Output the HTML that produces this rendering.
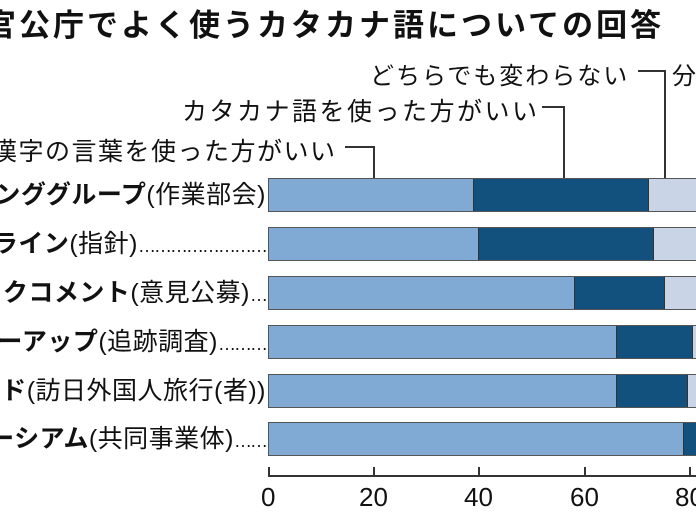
<!DOCTYPE html>
<html><head><meta charset="utf-8"><style>
body{margin:0;width:696px;height:522px;overflow:hidden;background:#fff;position:relative;font-family:"Liberation Sans","Noto Sans CJK JP",sans-serif;color:#111}
.t{position:absolute;white-space:nowrap}
.lab{position:absolute;right:430px;white-space:nowrap;font-size:25px;line-height:34px;letter-spacing:0.5px}
.lab b{font-weight:bold}
.dots{letter-spacing:-2px;font-size:18px}
.bar{position:absolute;left:268px;height:34px;width:440px;border:1.5px solid #555;box-sizing:border-box;display:flex;overflow:hidden}
.a{background:#80a9d3;height:100%;flex-shrink:0}
.b{background:#12507e;height:100%;border-left:1.5px solid #333;border-right:1.5px solid #333;box-sizing:border-box;flex-shrink:0}
.c{background:#c9d5e7;height:100%;flex:1}
.ln{position:absolute;background:#333}
.tk{position:absolute;font-size:26px;top:482px}
</style></head><body>
<div class="t" style="left:-15px;top:0px;font-size:31px;font-weight:bold;letter-spacing:3px">官公庁でよく使うカタカナ語についての回答</div>
<div class="t" style="left:370px;top:56px;font-size:24px;letter-spacing:2px">どちらでも変わらない</div>
<div class="t" style="left:672px;top:56px;font-size:24px">分</div>
<div class="t" style="left:182px;top:92px;font-size:25px;letter-spacing:2.5px">カタカナ語を使った方がいい</div>
<div class="t" style="left:-8px;top:132px;font-size:25px;letter-spacing:1.5px">漢字の言葉を使った方がいい</div>
<div class="ln" style="left:638px;top:70px;width:27px;height:1.5px"></div>
<div class="ln" style="left:664px;top:70px;width:1.5px;height:108px"></div>
<div class="ln" style="left:542px;top:106px;width:22px;height:1.5px"></div>
<div class="ln" style="left:563px;top:106px;width:1.5px;height:72px"></div>
<div class="ln" style="left:345px;top:146px;width:29px;height:1.5px"></div>
<div class="ln" style="left:373px;top:146px;width:1.5px;height:32px"></div>

<div class="lab" style="top:178px"><b>ワーキンググループ</b>(作業部会)</div>
<div class="lab" style="top:227px"><b>ガイドライン</b>(指針)<span class="dots">……………………</span></div>
<div class="lab" style="top:276px"><b>パブリックコメント</b>(意見公募)<span class="dots">…</span></div>
<div class="lab" style="top:325px"><b>フォローアップ</b>(追跡調査)<span class="dots">………</span></div>
<div class="lab" style="top:374px"><b>インバウンド</b>(訪日外国人旅行(者))</div>
<div class="lab" style="top:422px"><b>コンソーシアム</b>(共同事業体)<span class="dots">……</span></div>

<div class="bar" style="top:178px"><div class="a" style="width:204px"></div><div class="b" style="width:176px"></div><div class="c"></div></div>
<div class="bar" style="top:227px"><div class="a" style="width:209px"></div><div class="b" style="width:176px"></div><div class="c"></div></div>
<div class="bar" style="top:276px"><div class="a" style="width:305px"></div><div class="b" style="width:91px"></div><div class="c"></div></div>
<div class="bar" style="top:325px"><div class="a" style="width:347px"></div><div class="b" style="width:77px"></div><div class="c"></div></div>
<div class="bar" style="top:374px"><div class="a" style="width:347px"></div><div class="b" style="width:72px"></div><div class="c"></div></div>
<div class="bar" style="top:422px"><div class="a" style="width:414px"></div><div class="b" style="width:40px"></div><div class="c"></div></div>

<div class="ln" style="left:268px;top:475px;width:428px;height:1.5px"></div>
<div class="ln" style="left:268px;top:467px;width:1.5px;height:9px"></div>
<div class="ln" style="left:373px;top:467px;width:1.5px;height:9px"></div>
<div class="ln" style="left:478px;top:467px;width:1.5px;height:9px"></div>
<div class="ln" style="left:584px;top:467px;width:1.5px;height:9px"></div>
<div class="ln" style="left:689px;top:467px;width:1.5px;height:9px"></div>
<div class="tk" style="left:261px">0</div>
<div class="tk" style="left:359px">20</div>
<div class="tk" style="left:464px">40</div>
<div class="tk" style="left:570px">60</div>
<div class="tk" style="left:675px">80</div>
</body></html>
